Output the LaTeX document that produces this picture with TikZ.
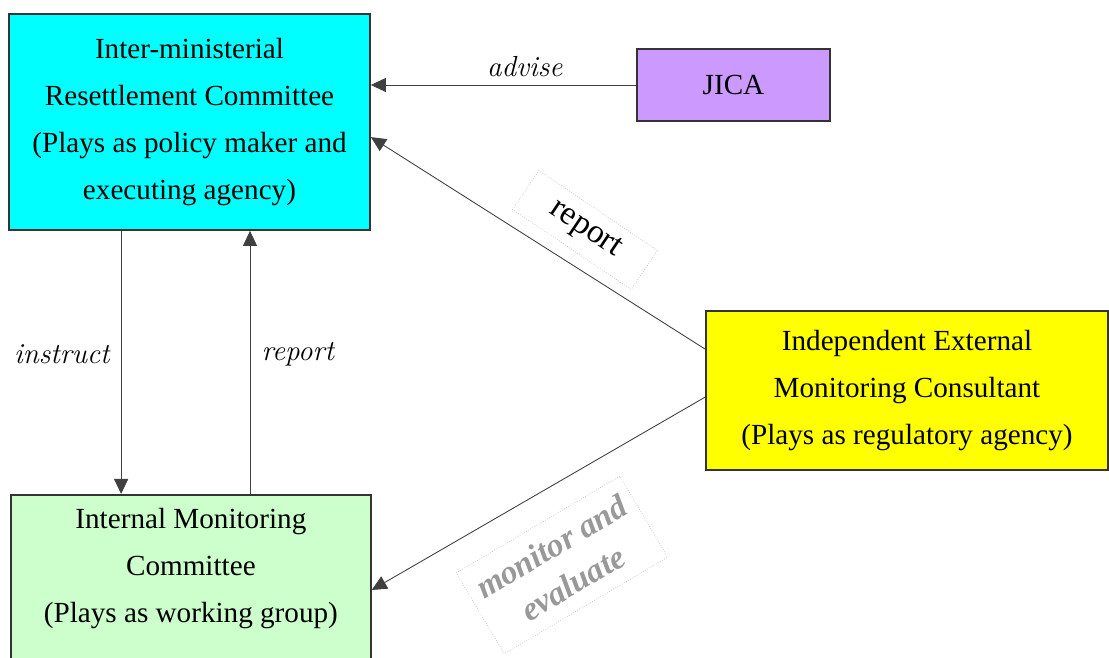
\documentclass[tikz,border=0pt]{standalone}
\usepackage{fontspec}
\usepackage{xcolor}
\usepackage{tikz}
\usetikzlibrary{positioning,arrows.meta}
\setmainfont{Liberation Serif}
\newfontfamily\lmfont{Latin Modern Roman}

\definecolor{committeecyan}{HTML}{00FFFF}
\definecolor{jicapurple}{HTML}{CC99FF}
\definecolor{consultyellow}{HTML}{FFFF00}
\definecolor{workgreen}{HTML}{CCFFCC}

\begin{document}
\begin{tikzpicture}[
    box/.style={rectangle, draw=black!80, line width=1pt, align=center, font=\fontsize{16.6}{26.6}\selectfont},
    boxtext/.style={align=center, font=\fontsize{16.6}{26.6}\selectfont},
    arrow/.style={-{Triangle[length=0.3cm,width=0.28cm]}, line width=0.5pt, black!75},
    flow/.style={text=black, font=\lmfont\itshape\fontsize{16.5}{20}\selectfont},
    stamp/.style={draw=black!25, densely dotted, line width=0.4pt, align=center, font=\fontsize{19}{22}\selectfont}
]
\useasboundingbox (0,0) rectangle (22.18,13.14);

% Resettlement Committee
\node[box, fill=committeecyan, minimum width=7.22cm, minimum height=4.32cm] (irc) at (3.79,10.70) {Inter-ministerial\\Resettlement Committee\\(Plays as policy maker and\\executing agency)};

% JICA
\node[box, fill=jicapurple, minimum width=3.86cm, minimum height=1.44cm] (jica) at (14.67,11.44) {JICA};

% External Consultant
\node[box, fill=consultyellow, minimum width=8.04cm, minimum height=3.18cm] (iemc) at (18.14,5.33) {Independent External\\Monitoring Consultant\\(Plays as regulatory agency)};

% Internal Monitoring Committee
\node[box, fill=workgreen, anchor=north west, minimum width=7.2cm, minimum height=3.6cm] (imc) at (0.20,3.26) {};
\node[boxtext] (imctext) at ([yshift=-1.49cm]imc.north) {Internal Monitoring\\Committee\\(Plays as working group)};

% Arrows
\coordinate (instructtop) at ([xshift=2.26cm]irc.south west);
\coordinate (reportbottom) at ([xshift=4.8cm]imc.north west);
\draw[arrow] (jica.west) -- (jica.west -| irc.east) node[flow, pos=0.42, above=1pt] (advise) {advise};
\draw[arrow] (instructtop) -- (instructtop |- imc.north) node[flow, pos=0.47, left=3pt] (instruct) {instruct};
\draw[arrow] (reportbottom) -- (reportbottom |- irc.south) node[flow, pos=0.53, right=3pt] (reportup) {report};
\draw[arrow] ([yshift=-0.78cm]iemc.north west) -- ([yshift=-2.48cm]irc.north east);
\draw[arrow] ([yshift=-1.74cm]iemc.north west) -- ([yshift=-1.92cm]imc.north east);

% Rotated labels
\node[stamp, rotate=-34, minimum width=2.86cm, minimum height=0.94cm] (reportstamp) at (11.70,8.54) {report};
\node[stamp, text=black!40, rotate=30.6, minimum width=3.8cm, minimum height=1.88cm, font=\fontsize{19}{24}\selectfont\bfseries\itshape] (monitorstamp) at (11.24,1.84) {monitor and\\evaluate};

\end{tikzpicture}
\end{document}
